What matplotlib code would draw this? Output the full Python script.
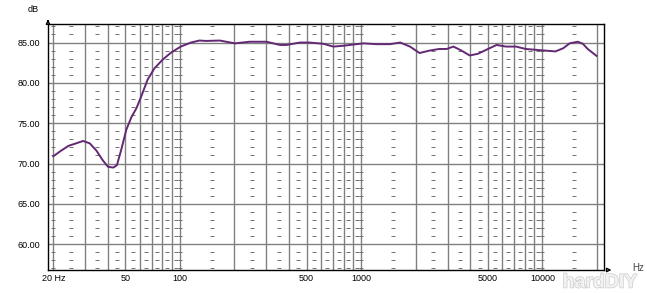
import matplotlib
matplotlib.use('Agg')
import matplotlib.pyplot as plt
import matplotlib.patheffects as pe
import numpy as np

plt.rcParams['font.family'] = ['Liberation Sans', 'DejaVu Sans']

# frequency response (Hz, dB)
freq = [20, 22.1, 24.3, 26.7, 29.2, 31.8, 34.6, 37.5, 40.1, 42.9, 44.9, 47.4,
        50.6, 54.1, 57.5, 61.1, 66.3, 72.3, 80.4, 89.3, 101, 115, 128, 139,
        166, 201, 242, 300, 357, 387, 459, 517, 618, 702, 794, 944, 1031,
        1211, 1440, 1643, 1860, 2100, 2380, 2690, 2960, 3230, 3580, 3970,
        4400, 5010, 5580, 6310, 7160, 8110, 9190, 10400, 11800, 13050,
        14140, 15690, 16720, 17800, 19900]
spl = [70.9, 71.6, 72.2, 72.5, 72.8, 72.5, 71.6, 70.4, 69.6, 69.5, 69.8, 71.7,
       74.2, 75.8, 76.85, 78.3, 80.4, 81.8, 82.9, 83.75, 84.5, 85.0, 85.25, 85.2,
       85.25, 84.9, 85.1, 85.1, 84.7, 84.7, 85.0, 85.0, 84.85, 84.5, 84.6, 84.8, 84.9,
       84.8, 84.8, 85.0, 84.5, 83.7, 84.0, 84.2, 84.2, 84.5, 84.0, 83.4,
       83.6, 84.2, 84.7, 84.5, 84.5, 84.2, 84.1, 84.0, 83.9, 84.3,
       84.9, 85.1, 84.85, 84.2, 83.35]

# grid layout of the analyser screen
x_labels = [20, 50, 100, 500, 1000, 5000, 10000]
x_label_text = ['20 Hz', '50', '100', '500', '1000', '5000', '10000']
x_grid = [20, 30, 40, 50, 60, 70, 80, 90, 100, 200, 300, 400, 500, 600, 700, 800, 900,
          1000, 2000, 3000, 4000, 5000, 6000, 7000, 8000, 9000, 10000, 20000]
x_dots = [20, 25, 35, 45, 55, 65, 75, 85, 95, 100, 150, 250, 350, 450, 550, 650, 750,
          850, 950, 1000, 1500, 2500, 3500, 4500, 5500, 6500, 7500, 8500, 9500,
          10000, 15000]
y_ticks = [60, 65, 70, 75, 80, 85]
y_dots = [d for d in range(57, 88) if d % 5 != 0]

fig = plt.figure(figsize=(6.47, 2.93), dpi=100)
ax = fig.add_axes([48/647, 1-270/293, (603.7-48)/647, (270-24)/293])

ax.set_xscale('log')
ax.set_xlim(18.7, 21800)
ax.set_ylim(56.8, 87.3)

ax.set_xticks(x_labels)
ax.set_xticklabels(x_label_text)
ax.set_xticks(x_grid, minor=True)
ax.xaxis.set_minor_formatter(matplotlib.ticker.NullFormatter())
ax.set_yticks(y_ticks)
ax.set_yticklabels(['%.2f' % v for v in y_ticks])
ax.tick_params(which='both', length=0, labelsize=6.5, colors='black')
ax.tick_params(axis='y', pad=6)
ax.tick_params(axis='x', pad=3)
ax.grid(True, which='both', axis='x', color='#808080', lw=1)
ax.grid(True, which='major', axis='y', color='#808080', lw=1)
ax.set_axisbelow(True)

# dotted minor grid
gx, gy = np.meshgrid(x_dots, y_dots)
ax.plot(gx.ravel(), gy.ravel(), ls='none', marker='_', ms=2.2, mew=0.7,
        color='#707070', zorder=1)

ax.plot(freq, spl, color='#632874', lw=1.4, zorder=3)

for s in ax.spines.values():
    s.set_color('black')
    s.set_linewidth(1)

# axis arrows and units
ax.annotate('', xy=(0, 1.03), xytext=(0, 1), xycoords='axes fraction',
            arrowprops=dict(arrowstyle='-|>', color='black', lw=1,
                            mutation_scale=6, fc='white'))
ax.annotate('', xy=(1.019, 0), xytext=(1, 0), xycoords='axes fraction',
            arrowprops=dict(arrowstyle='-|>', color='black', lw=1,
                            mutation_scale=6, fc='white'))
fig.text(33/647, 1-10/293, 'dB', fontsize=6.5, ha='center', va='center')
fig.text(638/647, 1-268/293, 'Hz', fontsize=7, ha='center', va='center',
         color='#444444')

# watermark
fig.text(600/647, 1-283/293, 'hardDIY', fontsize=14, ha='center', va='center',
         color='#f2f2f2', fontweight='bold',
         path_effects=[pe.withStroke(linewidth=1.1, foreground='#cfcfcf')])

fig.savefig('out.png', dpi=100)
